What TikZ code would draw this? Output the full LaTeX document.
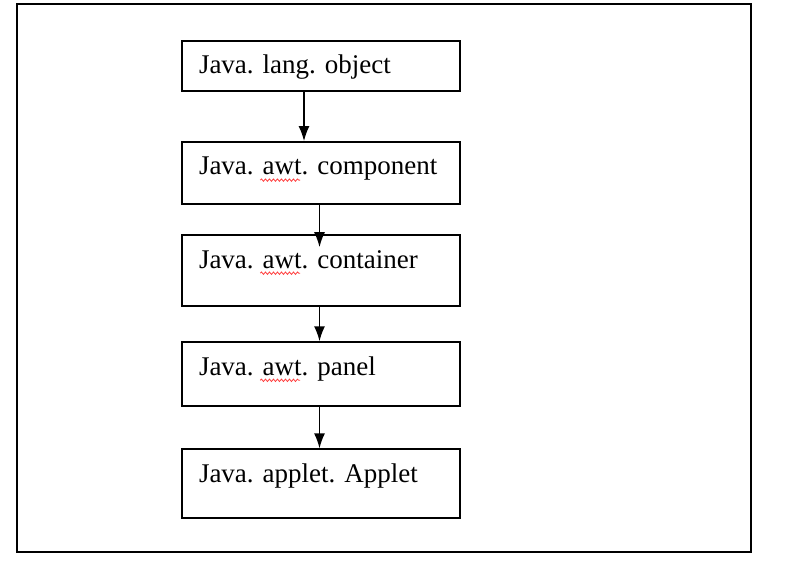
\documentclass[tikz,border=0pt]{standalone}
\usepackage{fontspec}
\setmainfont{Liberation Serif}
\usetikzlibrary{arrows.meta, positioning, calc, decorations.pathmorphing}
\frenchspacing

\begin{document}
\begin{tikzpicture}[x=1pt, y=-1pt, >={Latex[length=15pt, width=11pt]},
    classbox/.style={draw, line width=1.6pt, anchor=north, text width=244pt, align=left,
        inner xsep=17pt, inner ysep=13pt, text height=20pt, font=\fontsize{27}{30}\selectfont},
    inherit/.style={->, line width=1.6pt},
    spellmark/.style={red!75, line width=0.8pt, decorate,
        decoration={snake, amplitude=1.2pt, segment length=4pt}}]

    \useasboundingbox (0,0) rectangle (806,568);

    % Outer frame
    \draw[line width=1.6pt] (17,4) rectangle (751,552);

    % Class hierarchy
    \node[classbox, text depth=4pt] (obj) at (321,40) {Java. lang. object};
    \node[classbox, text depth=16pt, below=49.5pt of obj] (comp) {Java. awt. component};
    \node[classbox, text depth=25pt, below=29.5pt of comp] (cont) {Java. awt. container};
    \node[classbox, text depth=18pt, below=34.5pt of cont] (pan) {Java. awt. panel};
    \node[classbox, text depth=23pt, below=41.5pt of pan] (app) {Java. applet. Applet};

    % Inheritance arrows
    \draw[inherit] ([xshift=-17pt]obj.south) -- ([xshift=-17pt]comp.north);
    \draw[inherit] ([xshift=-1.5pt]comp.south) -- ([xshift=-1.5pt, yshift=-13pt]cont.north);
    \draw[inherit] ([xshift=-1.5pt]cont.south) -- ([xshift=-1.5pt]pan.north);
    \draw[inherit] ([xshift=-1.5pt]pan.south) -- ([xshift=-1.5pt]app.north);

    % Spell-check marks under awt
    \foreach \n in {comp, cont, pan}
        \draw[spellmark] ($(\n.north west)+(79,39)$) -- ++(40,0);

\end{tikzpicture}
\end{document}
